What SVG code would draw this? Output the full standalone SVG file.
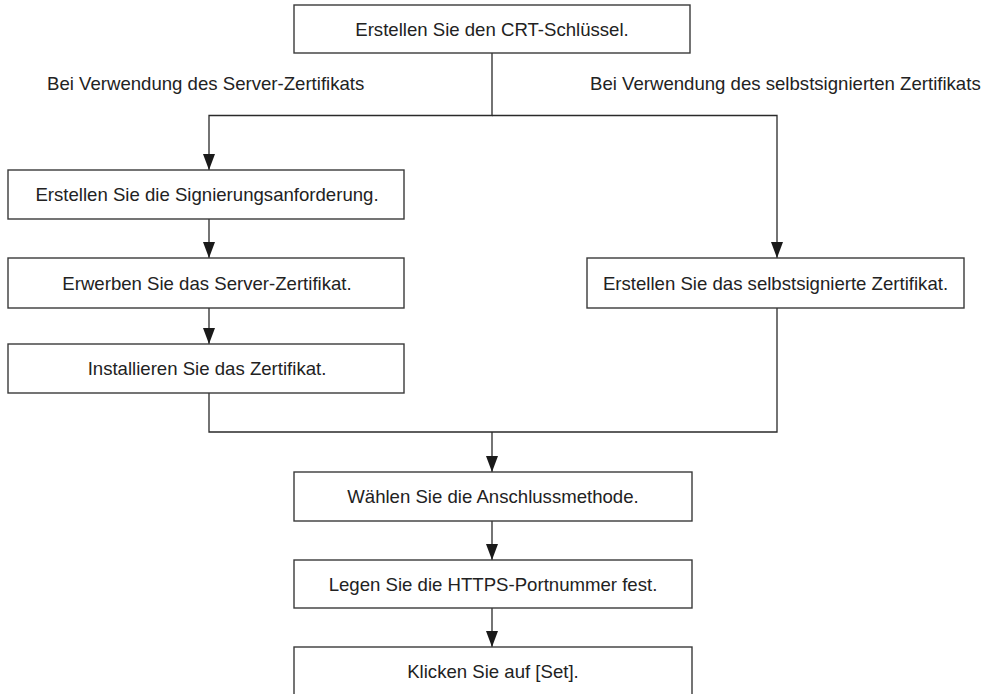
<svg xmlns="http://www.w3.org/2000/svg" width="989" height="694" viewBox="0 0 989 694">
<defs>
<style>
.box{fill:#fff;stroke:#3a3a3a;stroke-width:1.4}
.t{font-family:"Liberation Sans",Arial,sans-serif;font-size:18.6px;fill:#222;text-anchor:middle;dominant-baseline:central}
.l{font-family:"Liberation Sans",Arial,sans-serif;font-size:18.6px;fill:#222}
.c{fill:none;stroke:#2a2a2a;stroke-width:1.3}
</style>
<marker id="ah" viewBox="0 0 16 12" refX="16" refY="6" markerWidth="16" markerHeight="12" markerUnits="userSpaceOnUse" orient="auto">
<path d="M0,0 L16,6 L0,12 Z" fill="#1a1a1a"/>
</marker>
</defs>
<rect width="989" height="694" fill="#fff"/>
<g id="connectors">
<path class="c" d="M492,53 V115.5 H209 V170" marker-end="url(#ah)"/>
<path class="c" d="M492,115.5 H777 V258" marker-end="url(#ah)"/>
<path class="c" d="M209,219 V258" marker-end="url(#ah)"/>
<path class="c" d="M209,308 V344" marker-end="url(#ah)"/>
<path class="c" d="M209,393 V432 H777 V308"/>
<path class="c" d="M492,432 V472" marker-end="url(#ah)"/>
<path class="c" d="M492,521 V560" marker-end="url(#ah)"/>
<path class="c" d="M492,608 V647" marker-end="url(#ah)"/>
</g>
<g id="labels">
<text class="l" x="47" y="90">Bei Verwendung des Server-Zertifikats</text>
<text class="l" x="590" y="90">Bei Verwendung des selbstsignierten Zertifikats</text>
</g>
<g id="n1"><rect class="box" x="294" y="5" width="396" height="48"/><text class="t" x="492" y="29.5">Erstellen Sie den CRT-Schlüssel.</text></g>
<g id="n2"><rect class="box" x="8" y="170" width="396" height="49"/><text class="t" x="207" y="194.5">Erstellen Sie die Signierungsanforderung.</text></g>
<g id="n3"><rect class="box" x="8" y="258" width="396" height="50"/><text class="t" x="207" y="283">Erwerben Sie das Server-Zertifikat.</text></g>
<g id="n4"><rect class="box" x="8" y="344" width="396" height="49"/><text class="t" x="207" y="368.5">Installieren Sie das Zertifikat.</text></g>
<g id="n5"><rect class="box" x="587" y="258" width="377" height="50"/><text class="t" x="775.5" y="283">Erstellen Sie das selbstsignierte Zertifikat.</text></g>
<g id="n6"><rect class="box" x="294" y="472" width="398" height="49"/><text class="t" x="493" y="496.5">Wählen Sie die Anschlussmethode.</text></g>
<g id="n7"><rect class="box" x="294" y="560" width="398" height="48"/><text class="t" x="493" y="584">Legen Sie die HTTPS-Portnummer fest.</text></g>
<g id="n8"><rect class="box" x="294" y="647" width="398" height="60"/><text class="t" x="493" y="671">Klicken Sie auf [Set].</text></g>
</svg>
